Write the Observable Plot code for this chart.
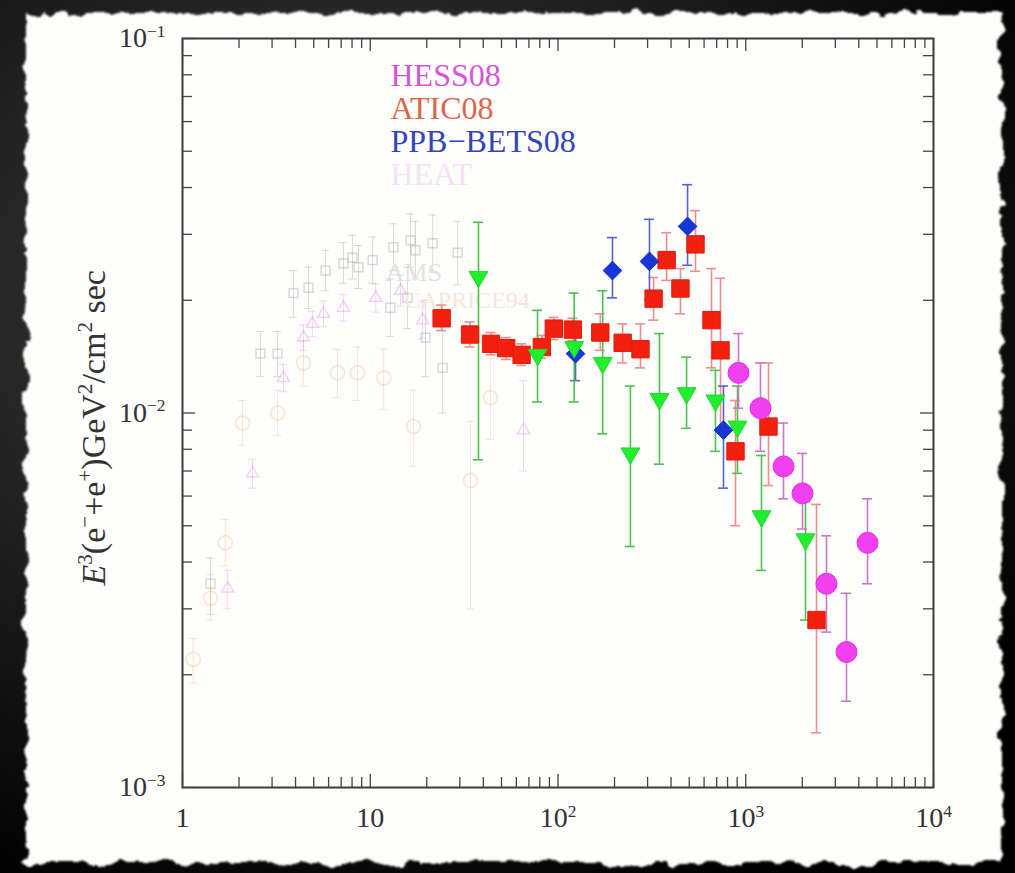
<!DOCTYPE html>
<html><head><meta charset="utf-8">
<script src="https://cdn.jsdelivr.net/npm/d3@7"></script>
<script src="https://cdn.jsdelivr.net/npm/@observablehq/plot@0.6"></script>
<style>
html,body{margin:0;padding:0;background:#000;}
#wrap{position:relative;width:1015px;height:873px;overflow:hidden;
 background: radial-gradient(ellipse 80% 75% at 35% 35%, #3c3c3c 0%, #262626 45%, #0c0c0c 80%, #000 100%);}
#paper{position:absolute;left:26px;top:13px;width:976px;height:850px;background:#fdfdfc;filter:url(#torn);}
#chart{position:absolute;left:0;top:0;}
</style></head><body>
<svg width="0" height="0" style="position:absolute">
<filter id="torn" x="-5%" y="-5%" width="110%" height="110%">
<feTurbulence type="fractalNoise" baseFrequency="0.045" numOctaves="4" seed="3" result="noise"/>
<feDisplacementMap in="SourceGraphic" in2="noise" scale="16" xChannelSelector="R" yChannelSelector="G"/>
<feGaussianBlur stdDeviation="0.8"/>
</filter></svg>
<div id="wrap"><div id="paper"></div><div id="chart"></div></div>
<script>
// ---------- data ----------
// ATIC08 (red squares)
const aticE  = [24, 34, 44, 53, 64, 82, 95, 120, 168, 221, 275, 323, 379, 449, 540, 657, 734, 882, 1322, 2381];
const aticF  = [0.0179, 0.0162, 0.0153, 0.0149, 0.0143, 0.0150, 0.0168, 0.0167, 0.0164, 0.0154, 0.0148, 0.0202, 0.0256, 0.0215, 0.0282, 0.0177, 0.0147, 0.0079, 0.0092, 0.0028];
const aticLo = [0.0166, 0.0150, 0.0143, 0.0139, 0.0134, 0.0140, 0.0157, 0.0156, 0.0147, 0.0136, 0.0132, 0.0177, 0.0226, 0.0184, 0.0239, 0.0132, 0.0090, 0.0050, 0.0064, 0.0014];
const aticHi = [0.0194, 0.0175, 0.0164, 0.0159, 0.0153, 0.0161, 0.0180, 0.0179, 0.0184, 0.0173, 0.0173, 0.0230, 0.0303, 0.0243, 0.0347, 0.0243, 0.0229, 0.0108, 0.0136, 0.0057];
// PPB-BETS08 (blue diamonds)
const ppbE  = [124, 195, 307, 490, 761];
const ppbF  = [0.0144, 0.0240, 0.0254, 0.0315, 0.0090];
const ppbLo = [0.0122, 0.0203, 0.0200, 0.0248, 0.0063];
const ppbHi = [0.0166, 0.0294, 0.0329, 0.0407, 0.0118];
// green down-triangles
const grnE  = [37.7, 77.8, 122, 173, 243, 347, 484, 690, 904, 1213, 2081];
const grnF  = [0.0231, 0.0143, 0.0150, 0.0136, 0.0078, 0.0109, 0.0113, 0.0108, 0.0092, 0.0053, 0.0046];
const grnLo = [0.0075, 0.0107, 0.0107, 0.0088, 0.0044, 0.0073, 0.0091, 0.0079, 0.0069, 0.0038, 0.0028];
const grnHi = [0.0323, 0.0188, 0.0209, 0.0212, 0.0118, 0.0163, 0.0141, 0.0130, 0.0118, 0.0077, 0.0058];
// HESS08 (magenta circles)
const hessE  = [915, 1198, 1589, 2006, 2692, 3440, 4452];
const hessF  = [0.0128, 0.0103, 0.0072, 0.0061, 0.0035, 0.0023, 0.0045];
const hessLo = [0.0103, 0.0079, 0.0059, 0.0049, 0.0026, 0.0017, 0.0035];
const hessHi = [0.0163, 0.0136, 0.0094, 0.0078, 0.0047, 0.0033, 0.0059];
// faint older data: gray open squares
const grayE  = [1.41, 2.60, 3.21, 3.90, 4.69, 5.78, 7.20, 8.04, 8.66, 10.3, 12.8, 13.3, 15.8, 16.4, 17.4, 19.7, 21.5, 24.3, 29.2];
const grayF  = [0.0035, 0.0144, 0.0144, 0.0209, 0.0216, 0.0240, 0.0251, 0.0260, 0.0245, 0.0256, 0.0191, 0.0277, 0.0203, 0.0289, 0.0272, 0.0159, 0.0284, 0.0132, 0.0268];
const grayLo = [0.0029, 0.0125, 0.0125, 0.0180, 0.0190, 0.0212, 0.0222, 0.0228, 0.0215, 0.0222, 0.0160, 0.0240, 0.0168, 0.0245, 0.0228, 0.0125, 0.0238, 0.0100, 0.0220];
const grayHi = [0.0041, 0.0165, 0.0165, 0.0240, 0.0245, 0.0272, 0.0285, 0.0298, 0.0280, 0.0295, 0.0228, 0.0320, 0.0245, 0.0340, 0.0325, 0.0200, 0.0338, 0.0172, 0.0325];
// faint HEAT (pink open triangles)
const heatE  = [1.74, 2.36, 3.45, 4.41, 4.92, 5.64, 7.20, 10.7, 14.5, 19.0, 65.5];
const heatF  = [0.0034, 0.0069, 0.0124, 0.0159, 0.0173, 0.0184, 0.0191, 0.0203, 0.0212, 0.0177, 0.0090];
const heatLo = [0.0030, 0.0063, 0.0114, 0.0147, 0.0160, 0.0170, 0.0176, 0.0186, 0.0193, 0.0158, 0.0070];
const heatHi = [0.0038, 0.0075, 0.0135, 0.0172, 0.0187, 0.0199, 0.0207, 0.0221, 0.0233, 0.0198, 0.0122];
// faint orange open circles
const capE  = [1.14, 1.41, 1.69, 2.09, 3.21, 4.41, 6.69, 8.55, 11.8, 17.0, 34.2, 43.7];
const capF  = [0.0022, 0.0032, 0.0045, 0.0094, 0.0100, 0.0136, 0.0128, 0.0128, 0.0124, 0.0092, 0.0066, 0.0110];
const capLo = [0.0019, 0.0028, 0.0039, 0.0082, 0.0087, 0.0118, 0.0110, 0.0108, 0.0102, 0.0072, 0.0030, 0.0085];
const capHi = [0.0025, 0.0037, 0.0052, 0.0108, 0.0115, 0.0156, 0.0148, 0.0150, 0.0148, 0.0115, 0.0095, 0.0140];

// legend & tick labels
const legendNames  = ["HESS08", "ATIC08", "PPB\u2212BETS08", "HEAT"];
const legendColors = ["#d655d6", "#d8684a", "#3345b8", "#f5e2f5"];
const xTickValues = [1, 10, 100, 1000, 10000];
const xTickLabels = ["1", "10", "10^{2}", "10^{3}", "10^{4}"];
const yTickValues = [0.001, 0.01, 0.1];
const yTickLabels = ["10^{\u22123}", "10^{\u22122}", "10^{\u22121}"];
const yTitle = "*E*^{3}(e^{\u2212}+e^{+})GeV^{2}/cm^{2} sec";

// ---------- build ----------
const rows = (E, F, lo, hi) => E.map((e, i) => ({E: e, F: F[i], lo: lo[i], hi: hi[i]}));
const atic = rows(aticE, aticF, aticLo, aticHi);
const ppb  = rows(ppbE, ppbF, ppbLo, ppbHi);
const grn  = rows(grnE, grnF, grnLo, grnHi);
const hess = rows(hessE, hessF, hessLo, hessHi);
const gray = rows(grayE, grayF, grayLo, grayHi);
const heat = rows(heatE, heatF, heatLo, heatHi);
const cap  = rows(capE, capF, capLo, capHi);

const W = 1015, H = 873, mL = 182, mR = 82, mT = 38, mB = 86;
const iW = W - mL - mR, iH = H - mT - mB;
const xAll = d3.scaleLog().domain([1, 1e4]).ticks();
const yAll = d3.scaleLog().domain([1e-3, 1e-1]).ticks();
const isMajor = v => Math.abs(Math.log10(v) - Math.round(Math.log10(v))) < 1e-9;
const xLab = new Map(xTickValues.map((v, i) => [v, xTickLabels[i]]));
const yLab = new Map(yTickValues.map((v, i) => [v, yTickLabels[i]]));

function errBars(data, color, width, opacity, cap) {
  return [
    Plot.ruleX(data, {x: "E", y1: "lo", y2: "hi", stroke: color, strokeWidth: width, strokeOpacity: opacity}),
    Plot.ruleY(data, {y: "hi", x1: "E", x2: "E", insetLeft: -cap, insetRight: -cap, stroke: color, strokeWidth: width, strokeOpacity: opacity}),
    Plot.ruleY(data, {y: "lo", x1: "E", x2: "E", insetLeft: -cap, insetRight: -cap, stroke: color, strokeWidth: width, strokeOpacity: opacity})
  ];
}
const tickColor = "#444";
const inTicks = (vals, len) => [
  Plot.tickX(vals, {x: d => d, insetTop: iH - len, stroke: tickColor, strokeWidth: 1.3}),
  Plot.tickX(vals, {x: d => d, insetBottom: iH - len, stroke: tickColor, strokeWidth: 1.3})
];
const inTicksY = (vals, len) => [
  Plot.tickY(vals, {y: d => d, insetRight: iW - len, stroke: tickColor, strokeWidth: 1.3}),
  Plot.tickY(vals, {y: d => d, insetLeft: iW - len, stroke: tickColor, strokeWidth: 1.3})
];

const chart = Plot.plot({
  width: W, height: H,
  marginLeft: mL, marginRight: mR, marginTop: mT, marginBottom: mB,
  x: {type: "log", domain: [1, 1e4]},
  y: {type: "log", domain: [1e-3, 1e-1]},
  style: {background: "transparent", fontFamily: "'Liberation Serif','Times New Roman',serif", overflow: "visible"},
  marks: [
    // faint older data
    ...errBars(gray, "#8a8a8a", 1, 0.3, 4),
    Plot.dot(gray, {x: "E", y: "F", symbol: "square", r: 5, stroke: "#8a8a8a", strokeOpacity: 0.3, fill: "none"}),
    ...errBars(heat, "#e070e0", 1, 0.28, 4),
    Plot.dot(heat, {x: "E", y: "F", symbol: "triangle", r: 4.5, stroke: "#e070e0", strokeOpacity: 0.3, fill: "none"}),
    ...errBars(cap, "#f0a060", 1, 0.28, 4),
    Plot.dot(cap, {x: "E", y: "F", symbol: "circle", r: 7, stroke: "#f0a060", strokeOpacity: 0.28, fill: "none"}),
    Plot.text(["AMS"], {frameAnchor: "top-left", dx: 203, dy: 234, lineAnchor: "middle", fontSize: 26, fill: "#e2e2e2", textAnchor: "start"}),
    Plot.text(["CAPRICE94"], {frameAnchor: "top-left", dx: 222, dy: 262, lineAnchor: "middle", fontSize: 24, fill: "#f7e8dc", textAnchor: "start"}),
    // main error bars
    ...errBars(atic, "#ec8e8e", 1.6, 1, 5),
    ...errBars(ppb, "#5566c4", 1.6, 1, 5),
    ...errBars(grn, "#4cc24c", 1.6, 1, 5),
    ...errBars(hess, "#c77ac7", 1.6, 1, 5),
    // symbols
    Plot.dot(atic, {x: "E", y: "F", symbol: "square", r: 9.8, fill: "#f2200f", stroke: "#e01c0c", strokeWidth: 1}),
    Plot.dot(ppb, {x: "E", y: "F", symbol: "diamond2", r: 8.4, fill: "#1836d8", stroke: "#1030c0", strokeWidth: 1}),
    Plot.dot(grn, {x: "E", y: "F", symbol: "triangle", r: 7, rotate: 180, fill: "#22ee30", stroke: "#1cd828", strokeWidth: 1}),
    Plot.dot(hess, {x: "E", y: "F", symbol: "circle", r: 10.5, fill: "#f040f0", stroke: "#e030e0", strokeWidth: 1}),
    // legend
    ...legendNames.map((n, i) => Plot.text([n], {frameAnchor: "top-left", dx: 208, dy: 37 + 33 * i, lineAnchor: "middle", fontSize: 32, fill: legendColors[i], textAnchor: "start"})),
    // frame, inner ticks
    Plot.frame({stroke: "#3a3a3a", strokeWidth: 2}),
    ...inTicks(xAll.filter(v => !isMajor(v)), 10),
    ...inTicks(xAll.filter(isMajor), 13),
    ...inTicksY(yAll.filter(v => !isMajor(v)), 10),
    ...inTicksY(yAll.filter(isMajor), 13),
    // axes labels
    Plot.axisX(xTickValues, {anchor: "bottom", tickSize: 0, tickPadding: 20, tickFormat: d => xLab.get(d), fontSize: 28, fill: "#333", label: null}),
    Plot.axisY(yTickValues, {anchor: "left", tickSize: 0, tickPadding: 17, tickFormat: d => yLab.get(d), fontSize: 28, fill: "#333", label: null}),
    Plot.text([yTitle], {frameAnchor: "bottom-left", rotate: -90, dx: -88, dy: -202, lineAnchor: "middle", fontSize: 34, fill: "#333", textAnchor: "start"})
  ]
});
document.getElementById("chart").appendChild(chart);

// rich text: ^{..} superscripts, *..* italics
const NS = "http://www.w3.org/2000/svg";
chart.querySelectorAll("text").forEach(el => {
  const s = el.textContent;
  if (!s.includes("^{") && !s.includes("*")) return;
  const size = parseFloat(getComputedStyle(el).fontSize) || 27;
  const sh = (0.38 * size).toFixed(1);
  el.textContent = "";
  const re = /\^\{([^}]*)\}|\*([^*]*)\*|([^^*]+)/g;
  let m, shifted = false;
  while ((m = re.exec(s))) {
    const t = document.createElementNS(NS, "tspan");
    if (m[1] !== undefined) {
      t.textContent = m[1];
      t.setAttribute("dy", -sh);
      t.setAttribute("font-size", (0.62 * size).toFixed(1));
      shifted = true;
    } else {
      t.textContent = m[2] !== undefined ? m[2] : m[3];
      if (m[2] !== undefined) t.setAttribute("font-style", "italic");
      if (shifted) { t.setAttribute("dy", sh); shifted = false; }
    }
    el.appendChild(t);
  }
});
</script></body></html>
